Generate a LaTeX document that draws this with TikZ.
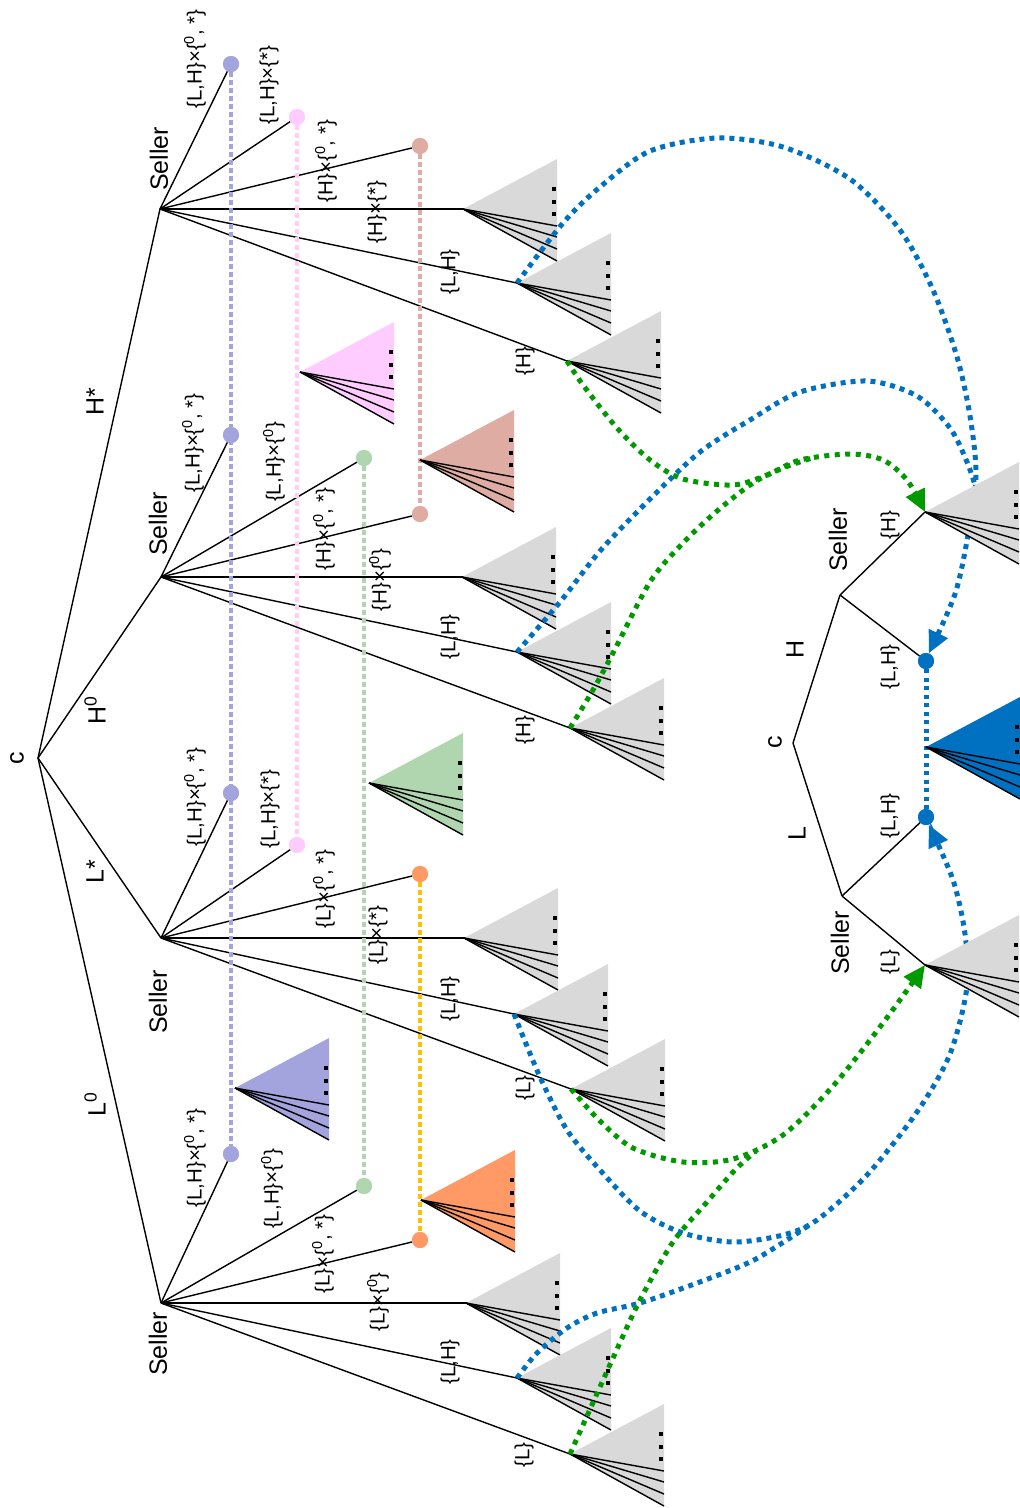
\documentclass[tikz,border=0pt]{standalone}
\usepackage{fontspec}
\setmainfont{Liberation Sans}
\usetikzlibrary{arrows.meta}
\definecolor{tgray}{HTML}{D9D9D9}
\definecolor{cblue}{HTML}{0070C0}
\definecolor{cgreen}{HTML}{009900}
\definecolor{cpurp}{HTML}{A3A3DE}
\definecolor{cpink}{HTML}{FFCCFF}
\definecolor{crose}{HTML}{DFACA3}
\definecolor{clgreen}{HTML}{AFD6AF}
\definecolor{corange}{HTML}{FF9966}
\definecolor{cyellow}{HTML}{FFC000}
\tikzset{
  pics/subtree/.style={code={
    \fill[#1] (0,0) -- (94,-50) -- (94,52) -- cycle;
    \foreach \d in {17,28,40,52}{\draw[black,line width=1.4pt] (0,0) -- (94,\d);}
    \foreach \d in {-20,-7,5}{\fill[black] (89,\d-2) rectangle ++(4,4);}
  }},
  branch/.style={draw=black,line width=1.4pt},
  dot/.style={circle,inner sep=0pt,minimum size=16pt,draw=none},
  big/.style={rotate=90,font=\fontsize{25}{30}\selectfont,inner sep=0pt},
  lab/.style={rotate=90,font=\fontsize{20.5}{24}\selectfont,inner sep=0pt},
  infoset/.style={line width=4.5pt,dash pattern=on 4.5pt off 3.5pt},
  bluecurve/.style={draw=cblue,line width=5pt,dash pattern=on 5pt off 5pt},
  greencurve/.style={draw=cgreen,line width=5pt,dash pattern=on 5pt off 5.5pt},
  arrowend/.style={-{Triangle[length=22pt,width=20pt]}},
}
\newcommand{\LHz}{\{L,H\}×\{\textsuperscript{0}, *\}}
\begin{document}
\begin{tikzpicture}[x=1pt,y=-1pt]
\useasboundingbox (0,0) rectangle (1020,1508);
% ---- vertices of the left tree
\coordinate (c) at (38,758);
\coordinate (sHs) at (160,209);
\coordinate (sHz) at (161,577);
\coordinate (sLs) at (161,938);
\coordinate (sLz) at (161,1303);
% triangle apexes
\coordinate (tA1) at (463,209); \coordinate (tB1) at (517,283); \coordinate (tC1) at (567,361);
\coordinate (tA2) at (462,577); \coordinate (tB2) at (517,652); \coordinate (tC2) at (570,728);
\coordinate (tA3) at (464,938); \coordinate (tB3) at (514,1014); \coordinate (tC3) at (571,1089);
\coordinate (tA4) at (466,1303); \coordinate (tB4) at (517,1378); \coordinate (tC4) at (570,1454);
\coordinate (kB) at (300,372); \coordinate (kC) at (420,460); \coordinate (kD) at (369,783);
\coordinate (kA) at (235,1088); \coordinate (kE) at (421,1200);
% dots
\node[dot,fill=cpurp] (pA1) at (231,64) {};
\node[dot,fill=cpurp] (pA2) at (231,435) {};
\node[dot,fill=cpurp] (pA3) at (231,793) {};
\node[dot,fill=cpurp] (pA4) at (231,1154) {};
\node[dot,fill=cpink] (pB1) at (297,117) {};
\node[dot,fill=cpink] (pB2) at (297,845) {};
\node[dot,fill=crose] (pC1) at (420,146) {};
\node[dot,fill=crose] (pC2) at (420,514) {};
\node[dot,fill=clgreen] (gD1) at (364,458) {};
\node[dot,fill=clgreen] (gD2) at (364,1186) {};
\node[dot,fill=corange] (oE1) at (420,874) {};
\node[dot,fill=corange] (oE2) at (420,1240) {};
% ---- branches
\draw[branch] (c) -- (sHs); \draw[branch] (c) -- (sHz);
\draw[branch] (c) -- (sLs); \draw[branch] (c) -- (sLz);
\foreach \s/\a/\b/\cc/\x/\y/\z in {sHs/pA1/pB1/pC1/tA1/tB1/tC1, sHz/pA2/gD1/pC2/tA2/tB2/tC2, sLs/pA3/pB2/oE1/tA3/tB3/tC3, sLz/pA4/gD2/oE2/tA4/tB4/tC4}{
  \draw[branch] (\s) -- (\a); \draw[branch] (\s) -- (\b); \draw[branch] (\s) -- (\cc);
  \draw[branch] (\s) -- (\x); \draw[branch] (\s) -- (\y); \draw[branch] (\s) -- (\z);
}
% ---- information sets
\draw[infoset,cpurp] (pA1) -- (pA4);
\draw[infoset,cpink] (pB1) -- (pB2);
\draw[infoset,crose] (pC1) -- (pC2);
\draw[infoset,clgreen] (gD1) -- (gD2);
\draw[infoset,cyellow] (oE1) -- (oE2);
% redraw dots on top
\foreach \n/\col in {pA1/cpurp,pA2/cpurp,pA3/cpurp,pA4/cpurp,pB1/cpink,pB2/cpink,pC1/crose,pC2/crose,gD1/clgreen,gD2/clgreen,oE1/corange,oE2/corange}{
  \fill[\col] (\n) circle[radius=8pt];
}
% ---- subtrees of the left tree
\foreach \t in {tA1,tB1,tC1,tA2,tB2,tC2,tA3,tB3,tC3,tA4,tB4,tC4}{\pic at (\t) {subtree=tgray};}
\pic at (kB) {subtree=cpink};
\pic at (kC) {subtree=crose};
\pic at (kD) {subtree=clgreen};
\pic at (kA) {subtree=cpurp};
\pic at (kE) {subtree=corange};
% ---- right tree vertices
\coordinate (c2) at (793,743);
\coordinate (sR1) at (840,595);
\coordinate (sR2) at (842,896);
\coordinate (tR1) at (925,512);
\coordinate (tR2) at (925,965);
\coordinate (kR) at (926,747);
\node[dot,fill=cblue] (bd1) at (926,661) {};
\node[dot,fill=cblue] (bd2) at (926,817) {};
\coordinate (jB1) at (975,485);
\coordinate (jB2) at (812,1223);
\coordinate (jG1) at (815,457);
\coordinate (jG2) at (756,1151);
% ---- curved connectors
\draw[bluecurve,arrowend] plot[smooth] coordinates {(tB1) (563,223) (600,187) (650,151) (717,138) (783,147) (850,179) (900,230) (933,290) (957,357) (970,416) (976,475) (968,535) (955,594) (bd1.70)};
\draw[bluecurve] plot[smooth] coordinates {(tB2) (560,602) (600,551) (650,499) (700,452) (750,420) (800,392) (867,381) (917,396) (950,428) (967,462) (jB1)};
\draw[greencurve,arrowend] plot[smooth] coordinates {(tC1) (583,385) (617,428) (650,460) (683,479) (733,485) (767,475) (800,460) (850,454) (883,460) (907,480) (tR1)};
\draw[greencurve] plot[smooth] coordinates {(tC2) (593,690) (613,653) (650,582) (683,543) (717,511) (753,483) (783,468) (jG1)};
\draw[bluecurve,arrowend] plot[smooth] coordinates {(tB3) (540,1077) (567,1130) (600,1170) (640,1211) (683,1233) (733,1242) (783,1235) (817,1220) (867,1175) (917,1112) (950,1054) (967,987) (965,934) (953,880) (bd2.-70)};
\draw[bluecurve] plot[smooth] coordinates {(tB4) (537,1353) (567,1328) (597,1313) (640,1303) (697,1283) (750,1262) (790,1238) (jB2)};
\draw[greencurve,arrowend] plot[smooth] coordinates {(tC3) (600,1121) (633,1148) (683,1162) (733,1159) (783,1135) (833,1086) (883,1023) (tR2)};
\draw[greencurve] plot[smooth] coordinates {(tC4) (587,1416) (613,1358) (640,1300) (673,1242) (707,1202) (735,1170) (jG2)};
% ---- right tree
\draw[branch] (c2) -- (sR1); \draw[branch] (c2) -- (sR2);
\draw[branch] (sR1) -- (tR1); \draw[branch] (sR1) -- (bd1);
\draw[branch] (sR2) -- (tR2); \draw[branch] (sR2) -- (bd2);
\draw[infoset,cblue,line width=5pt,dash pattern=on 4pt off 4.5pt] (bd1) -- (bd2);
\fill[cblue] (bd1) circle[radius=8pt];
\fill[cblue] (bd2) circle[radius=8pt];
\pic at (tR1) {subtree=tgray};
\pic at (tR2) {subtree=tgray};
\pic at (kR) {subtree=cblue};
% ---- labels: chance and players
\node[big] (lc) at (17,758) {c};
\node[big] (lHs) at (95,402) {H*};
\node[big] (lHz) at (95,710) {H\textsuperscript{0}};
\node[big] (lLs) at (95,872) {L*};
\node[big] (lLz) at (95,1104) {L\textsuperscript{0}};
\node[big] (s1) at (159,159) {Seller};
\node[big] (s2) at (158,524) {Seller};
\node[big] (s3) at (158,1002) {Seller};
\node[big] (s4) at (158,1344) {Seller};
\node[big] (s5) at (838,540) {Seller};
\node[big] (s6) at (840,943) {Seller};
\node[big] (lc2) at (775,742) {c};
\node[big] (lH) at (795,649) {H};
\node[big] (lL) at (797,834) {L};
% ---- labels: seller actions
\node[lab] (e11) at (195,59) {\LHz};
\node[lab] (e12) at (269,85) {\{L,H\}×\{*\}};
\node[lab] (e13) at (326,161) {\{H\}×\{\textsuperscript{0}, *\}};
\node[lab] (e14) at (377,212) {\{H\}×\{*\}};
\node[lab] (e15) at (450,272) {\{L,H\}};
\node[lab] (e16) at (525,361) {\{H\}};
\node[lab] (e21) at (193,443) {\LHz};
\node[lab] (e22) at (274,462) {\{L,H\}×\{\textsuperscript{0}\}};
\node[lab] (e23) at (324,529) {\{H\}×\{\textsuperscript{0}, *\}};
\node[lab] (e24) at (380,580) {\{H\}×\{\textsuperscript{0}\}};
\node[lab] (e25) at (450,637) {\{L,H\}};
\node[lab] (e26) at (525,730) {\{H\}};
\node[lab] (e31) at (195,797) {\LHz};
\node[lab] (e32) at (270,809) {\{L,H\}×\{*\}};
\node[lab] (e33) at (324,889) {\{L\}×\{\textsuperscript{0}, *\}};
\node[lab] (e34) at (378,935) {\{L\}×\{*\}};
\node[lab] (e35) at (450,999) {\{L,H\}};
\node[lab] (e36) at (525,1088) {\{L\}};
\node[lab] (e41) at (195,1158) {\LHz};
\node[lab] (e42) at (272,1189) {\{L,H\}×\{\textsuperscript{0}\}};
\node[lab] (e43) at (323,1254) {\{L\}×\{\textsuperscript{0}, *\}};
\node[lab] (e44) at (378,1302) {\{L\}×\{\textsuperscript{0}\}};
\node[lab] (e45) at (450,1362) {\{L,H\}};
\node[lab] (e46) at (524,1455) {\{L\}};
\node[lab] (r1) at (890,525) {\{H\}};
\node[lab] (r2) at (890,667) {\{L,H\}};
\node[lab] (r3) at (890,816) {\{L,H\}};
\node[lab] (r4) at (890,962) {\{L\}};
\end{tikzpicture}
\end{document}
